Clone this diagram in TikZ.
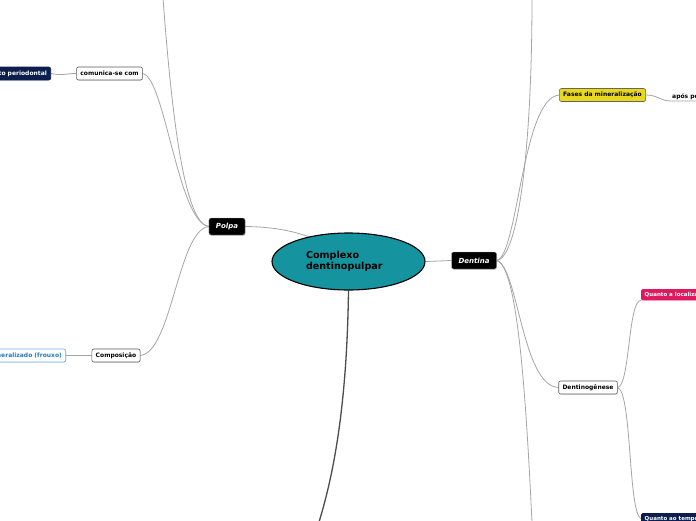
\documentclass[tikz,border=0pt]{standalone}
\usepackage{fontspec}
\setmainfont{DejaVu Sans}
\usetikzlibrary{shapes.geometric,shadows}
\definecolor{tealc}{RGB}{21,147,158}
\definecolor{navyc}{RGB}{12,30,77}
\definecolor{pinkc}{RGB}{224,25,95}
\definecolor{yellowc}{RGB}{232,216,30}
\definecolor{linec}{RGB}{165,165,165}
\definecolor{bluec}{RGB}{42,122,184}
\definecolor{lbluec}{RGB}{110,176,224}
\pgfdeclarelayer{bg}
\pgfsetlayers{bg,main}
\tikzset{
  topic/.style={fill=black, draw=gray!60, line width=0.4pt, rounded corners=2pt,
    text=white, font=\fontsize{7}{8}\selectfont\bfseries\itshape,
    minimum height=17pt, inner xsep=7pt, inner ysep=0pt,
    drop shadow={shadow xshift=0.6pt, shadow yshift=-0.8pt, opacity=0.3}},
  sub/.style={fill=white, draw=gray!70!black, line width=0.6pt, rounded corners=2pt,
    font=\fontsize{6}{7}\selectfont\bfseries, minimum height=13pt,
    inner xsep=3.8pt, inner ysep=0pt,
    drop shadow={shadow xshift=0.5pt, shadow yshift=-0.6pt, opacity=0.25}},
  darksub/.style={sub, fill=navyc, draw=navyc, text=white},
  smallsub/.style={fill=#1, draw=#1, rounded corners=1.5pt, text=white,
    font=\fontsize{5.5}{6.5}\selectfont\bfseries, minimum height=11pt,
    inner xsep=3.5pt, inner ysep=0pt},
  conn/.style={draw=linec, line width=0.8pt},
  mainconn/.style={draw=black!70, line width=1.3pt},
}
\begin{document}
\begin{tikzpicture}[x=1pt,y=-1pt]
\useasboundingbox (0,0) rectangle (696,520);

\node[ellipse, draw=black, line width=1.1pt, fill=tealc, minimum width=153pt,
  minimum height=57pt, inner sep=0pt, align=left, text width=85pt,
  font=\fontsize{9.6}{11.5}\selectfont\bfseries] (ell) at (348.5,261.5)
  {Complexo\\dentinopulpar};

\node[topic] (polpa) at (227,226.5) {Polpa};
\node[topic] (dentina) at (474,260.5) {Dentina};

\node[sub] (comunica) at (109.5,73.5) {comunica-se com};
\node[darksub, anchor=east] (ligamento) at (51,73.5) {ligamento periodontal};
\node[sub] (composicao) at (116,355.5) {Composição};
\node[sub, draw=lbluec, text=bluec, anchor=east] (mineral) at (66,355.5)
  {Tecido conjuntivo não mineralizado (frouxo)};

\node[sub, fill=yellowc, draw=black!60] (fases) at (602.5,95) {Fases da mineralização};
\node[font=\fontsize{6}{7}\selectfont\bfseries, anchor=south west, inner xsep=1pt,
  inner ysep=1.5pt] (apos) at (671,101) {após período};
\node[sub] (dentino) at (588,387.5) {Dentinogênese};
\node[smallsub=pinkc, anchor=north west] (pink) at (641,289) {Quanto a localização};
\node[smallsub=navyc, anchor=north west] (navy) at (641,513) {Quanto ao tempo de formação};

\coordinate (top1) at (163,-2);
\coordinate (top2) at (532,-2);
\coordinate (bot1) at (319,522);
\coordinate (bot2) at (532,522);

\begin{pgfonlayer}{bg}
\draw[conn] (polpa.west) .. controls (185,224) and (172,120) .. (top1);
\draw[conn] (comunica.east) .. controls (165,78) and (178,222) .. (polpa.west);
\draw[conn] (polpa.west) .. controls (178,230) and (172,352) .. (composicao.east);
\draw[conn] (ligamento.east) .. controls (64,76) and (64,73.5) .. (comunica.west);
\draw[conn] (mineral.east) -- (composicao.west);
\draw[conn] (polpa.east) .. controls (290,227) and (325,238) .. (ell.center);
\draw[conn] (ell.east) -- (dentina.west);
\draw[mainconn] (ell.south) .. controls (347,400) and (335,470) .. (bot1);
\draw[conn] (dentina.east) .. controls (518,258) and (532,150) .. (top2);
\draw[conn] (dentina.east) .. controls (518,256) and (522,98) .. (fases.west);
\draw[conn] (dentina.east) .. controls (518,266) and (522,386) .. (dentino.west);
\draw[conn] (dentina.east) .. controls (518,266) and (526,400) .. (bot2);
\draw[conn] (dentino.east) .. controls (630,386) and (628,300) .. (pink.south west);
\draw[conn] (dentino.east) .. controls (632,392) and (628,512) .. (navy.west);
\draw[conn] (fases.east) .. controls (658,95) and (660,101) .. (apos.south west) -- (apos.south east);
\end{pgfonlayer}
\end{tikzpicture}
\end{document}
